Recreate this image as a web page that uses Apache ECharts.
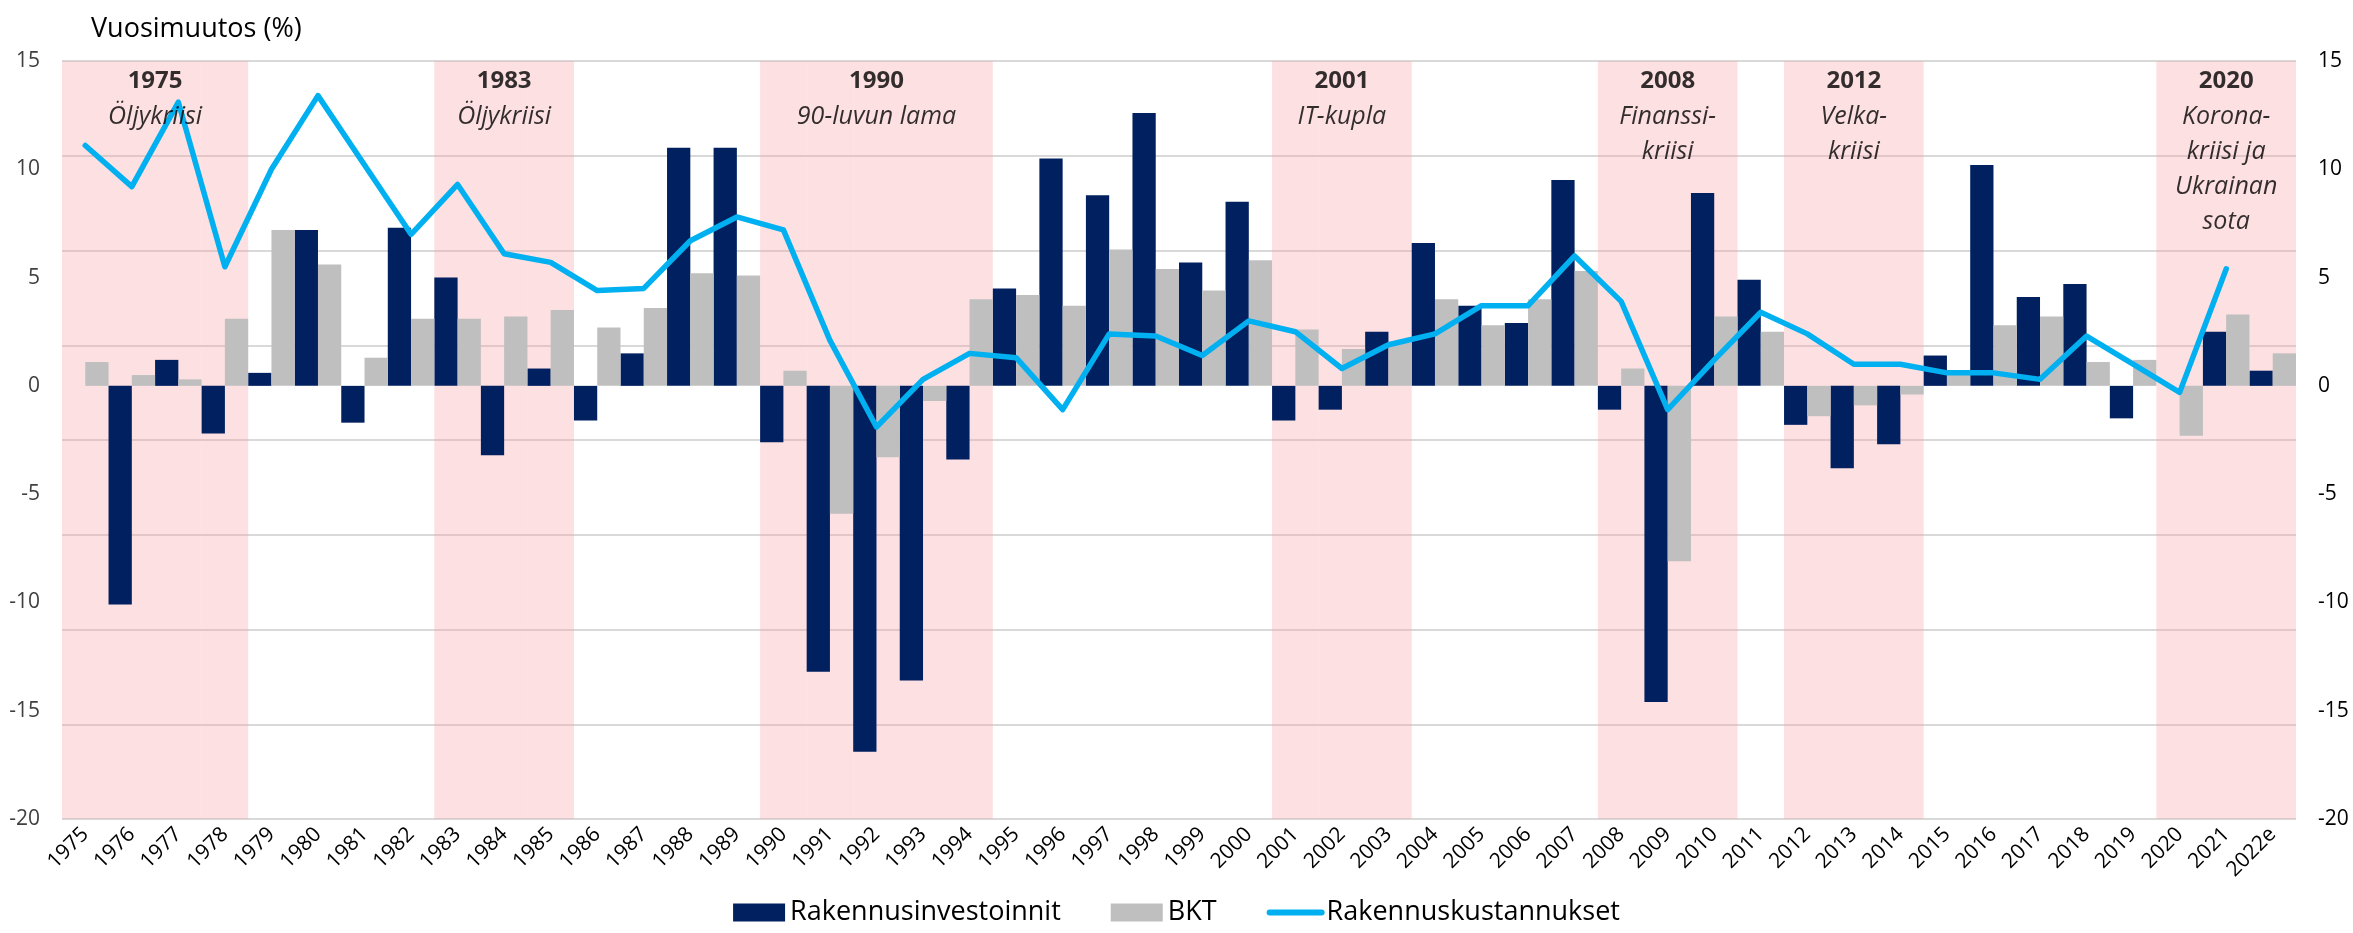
<!DOCTYPE html>
<html>
<head>
<meta charset="utf-8">
<script src="https://cdn.jsdelivr.net/npm/echarts@6.0.0/dist/echarts.min.js"></script>
<style>
  html, body { margin: 0; padding: 0; background: #fff; }
  #chart { width: 2353px; height: 933px; }
</style>
</head>
<body>
<div id="chart"></div>
<script>
// vuodet (x-akseli)
var years = ["1975","1976","1977","1978","1979","1980","1981","1982","1983","1984",
  "1985","1986","1987","1988","1989","1990","1991","1992","1993","1994",
  "1995","1996","1997","1998","1999","2000","2001","2002","2003","2004",
  "2005","2006","2007","2008","2009","2010","2011","2012","2013","2014",
  "2015","2016","2017","2018","2019","2020","2021","2022e"];

// vuosimuutos %, luettu kuvasta
var investoinnit = [null, -10.1, 1.2, -2.2, 0.6, 7.2, -1.7, 7.3, 5.0, -3.2,
  0.8, -1.6, 1.5, 11.0, 11.0, -2.6, -13.2, -16.9, -13.6, -3.4,
  4.5, 10.5, 8.8, 12.6, 5.7, 8.5, -1.6, -1.1, 2.5, 6.6,
  3.7, 2.9, 9.5, -1.1, -14.6, 8.9, 4.9, -1.8, -3.8, -2.7,
  1.4, 10.2, 4.1, 4.7, -1.5, 0, 2.5, 0.7];

var bkt = [1.1, 0.5, 0.3, 3.1, 7.2, 5.6, 1.3, 3.1, 3.1, 3.2,
  3.5, 2.7, 3.6, 5.2, 5.1, 0.7, -5.9, -3.3, -0.7, 4.0,
  4.2, 3.7, 6.3, 5.4, 4.4, 5.8, 2.6, 1.7, 2.0, 4.0,
  2.8, 4.0, 5.3, 0.8, -8.1, 3.2, 2.5, -1.4, -0.9, -0.4,
  0.5, 2.8, 3.2, 1.1, 1.2, -2.3, 3.3, 1.5];

var kustannukset = [11.1, 9.2, 13.1, 5.5, 10.0, 13.4, 10.2, 7.0, 9.3, 6.1,
  5.7, 4.4, 4.5, 6.7, 7.8, 7.2, 2.1, -1.9, 0.3, 1.5,
  1.3, -1.1, 2.4, 2.3, 1.4, 3.0, 2.5, 0.8, 1.9, 2.4,
  3.7, 3.7, 6.0, 3.9, -1.1, 1.2, 3.4, 2.4, 1.0, 1.0,
  0.6, 0.6, 0.3, 2.3, 1.0, -0.3, 5.4, null];

// kriisijaksot
var crisisStart = ["1975", "1983", "1990", "2001", "2008", "2012", "2020"];
var crisisEnd = ["1978", "1985", "1994", "2003", "2010", "2014", "2022e"];
var crisisText = ["Öljykriisi", "Öljykriisi", "90-luvun lama", "IT-kupla",
  "Finanssi-\nkriisi", "Velka-\nkriisi", "Korona-\nkriisi ja\nUkrainan\nsota"];

var yMin = -20, yMax = 15, yStep = 5;
var gridDivs = 8;

var FONT = "Open Sans";

// taustan vaaleanpunaiset jaksot
var bandData = years.map(function (y, i) {
  for (var k = 0; k < crisisStart.length; k++) {
    if (i >= years.indexOf(crisisStart[k]) && i <= years.indexOf(crisisEnd[k])) return gridDivs;
  }
  return null;
});

// jaksojen otsikot keskelle jaksoa
var notes = crisisStart.map(function (s, k) {
  var a = years.indexOf(s), b = years.indexOf(crisisEnd[k]);
  var lines = crisisText[k].split("\n").map(function (t) { return "{t|" + t + "}"; });
  return {
    value: [(a + b + 1) / 2, yMax],
    label: { formatter: "{y|" + s + "}\n" + lines.join("\n") }
  };
});

var myChart = echarts.init(document.getElementById("chart"));
myChart.setOption({
  animation: false,
  textStyle: { fontFamily: FONT },
  title: {
    text: "Vuosimuutos (%)",
    left: 86,
    top: 11,
    textStyle: { fontFamily: FONT, fontSize: 27, fontWeight: "normal", color: "#000" }
  },
  legend: {
    bottom: 2,
    itemWidth: 52,
    itemHeight: 18,
    itemGap: 50,
    textStyle: { fontFamily: FONT, fontSize: 27, color: "#000" },
    data: [
      { name: "Rakennusinvestoinnit", icon: "rect" },
      { name: "BKT", icon: "rect" },
      {
        name: "Rakennuskustannukset",
        itemStyle: { opacity: 0 },
        lineStyle: { width: 6, cap: "round", color: "#00b0f0" }
      }
    ]
  },
  grid: {
    left: 62,
    right: 57,
    top: 61,
    bottom: 114,
    containLabel: false,
    outerBoundsMode: "none"
  },
  xAxis: [
    {
      type: "category",
      data: years,
      position: "bottom",
      axisLine: { show: false, onZero: false },
      axisTick: { show: false },
      splitLine: { show: false },
      axisLabel: {
        interval: 0,
        rotate: 45,
        margin: 12,
        fontSize: 21,
        color: "#000",
        fontFamily: FONT
      }
    },
    { type: "category", data: years, show: false },
    { type: "value", min: 0, max: years.length, show: false }
  ],
  yAxis: [
    {
      type: "value",
      position: "left",
      min: yMin,
      max: yMax,
      interval: yStep,
      axisLine: { show: false },
      axisTick: { show: false },
      splitLine: { show: false },
      axisLabel: { fontSize: 21, color: "#404040", margin: 22, fontFamily: FONT }
    },
    {
      type: "value",
      position: "right",
      min: yMin,
      max: yMax,
      interval: yStep,
      axisLine: { show: false },
      axisTick: { show: false },
      splitLine: { show: false },
      axisLabel: { fontSize: 21, color: "#000", margin: 22, fontFamily: FONT }
    },
    {
      // apuakseli: vaakaviivat ja taustajaksot
      type: "value",
      min: 0,
      max: gridDivs,
      interval: 1,
      axisLine: { show: false },
      axisTick: { show: false },
      axisLabel: { show: false },
      splitLine: { show: true, lineStyle: { color: "#d9d9d9", width: 2 } }
    }
  ],
  series: [
    {
      name: "jaksot",
      type: "bar",
      xAxisIndex: 1,
      yAxisIndex: 2,
      data: bandData,
      barWidth: "100%",
      silent: true,
      z: 1,
      itemStyle: { color: "rgba(249,160,165,0.33)" }
    },
    {
      name: "Rakennusinvestoinnit",
      type: "bar",
      xAxisIndex: 0,
      yAxisIndex: 0,
      data: investoinnit,
      barGap: "0%",
      barCategoryGap: "0%",
      z: 2,
      itemStyle: { color: "#002060" }
    },
    {
      name: "BKT",
      type: "bar",
      xAxisIndex: 0,
      yAxisIndex: 0,
      data: bkt,
      barGap: "0%",
      barCategoryGap: "0%",
      z: 2,
      itemStyle: { color: "#bfbfbf" }
    },
    {
      name: "Rakennuskustannukset",
      type: "line",
      xAxisIndex: 0,
      yAxisIndex: 1,
      data: kustannukset,
      symbol: "none",
      z: 3,
      itemStyle: { color: "#00b0f0" },
      lineStyle: { color: "#00b0f0", width: 5.5, join: "round", cap: "round" }
    },
    {
      name: "otsikot",
      type: "scatter",
      xAxisIndex: 2,
      yAxisIndex: 0,
      symbolSize: 0,
      silent: true,
      z: 4,
      data: notes,
      label: {
        show: true,
        position: "bottom",
        distance: 3,
        align: "center",
        color: "#000",
        rich: {
          y: { fontFamily: FONT, fontSize: 24, fontWeight: "bold", lineHeight: 35, color: "#000" },
          t: { fontFamily: FONT, fontSize: 25, fontStyle: "italic", lineHeight: 35, color: "#000" }
        }
      }
    }
  ]
});
</script>
</body>
</html>
